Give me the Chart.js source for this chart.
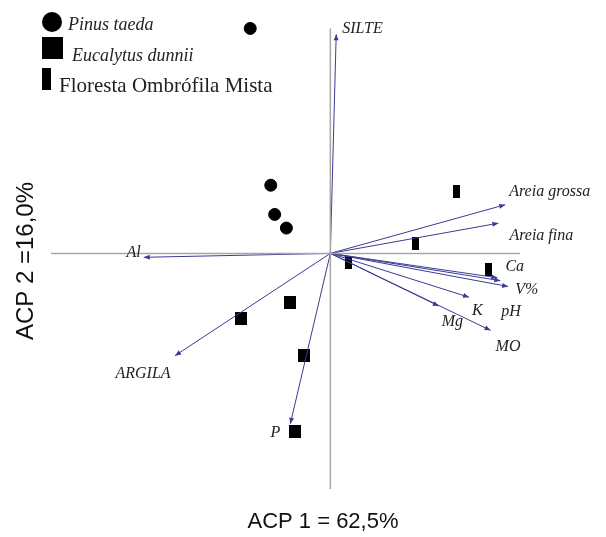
<!DOCTYPE html>
<html>
<head>
<meta charset="utf-8">
<script src="https://cdn.jsdelivr.net/npm/chart.js@4.4.1/dist/chart.umd.min.js"></script>
<style>
  body { margin: 0; background: #fff; }
  #pca { display: block; }
</style>
</head>
<body>
<canvas id="pca" width="606" height="537"></canvas>
<script>
// --- DADOS DA ACP (escores e vetores) ---
const variaveis = ["SILTE", "Areia grossa", "Areia fina", "Ca", "pH", "V%", "K", "Mg", "MO", "Al", "ARGILA", "P"];
const vetorX = [0.06, 1.79, 1.72, 1.71, 1.74, 1.82, 1.42, 1.11, 1.64, -1.91, -1.59, -0.41];
const vetorY = [2.25, 0.50, 0.31, -0.25, -0.28, -0.34, -0.45, -0.54, -0.79, -0.04, -1.05, -1.75];

const pinusX = [-0.82, -0.61, -0.57, -0.45];
const pinusY = [2.31, 0.70, 0.40, 0.26];
const eucaliptoX = [-0.91, -0.41, -0.27, -0.36];
const eucaliptoY = [-0.67, -0.50, -1.05, -1.83];
const florestaX = [1.29, 0.87, 1.62, 0.19];
const florestaY = [0.64, 0.10, -0.17, -0.09];

const tituloX = "ACP 1 = 62,5%";
const tituloY = "ACP 2 =16,0%";
const legendas = ["Pinus taeda", "Eucalytus dunnii", "Floresta Ombrófila Mista"];

// limites dos eixos desenhados (cruz central)
const eixoH = [-2.86, 1.94];
const eixoV = [2.31, -2.42];

// deslocamento (px) dos rótulos em relação à ponta do vetor: [dx, dy, alinhamento]
const rotuloDesvio = {
  "SILTE": [6, -5, "left"],
  "Areia grossa": [4, -13, "left"],
  "Areia fina": [11, 13, "left"],
  "Ca": [8, -11, "left"],
  "pH": [1, 31, "left"],
  "V%": [7, 3, "left"],
  "K": [3, 14, "left"],
  "Mg": [3, 16, "left"],
  "MO": [5, 16, "left"],
  "Al": [-3, -5, "right"],
  "ARGILA": [-32, 18, "center"],
  "P": [-10, 9, "right"]
};

const corVetor = "#3b3b94";
const corEixo = "#a6a6a6";

// marcadores retangulares (quadrado e barra estreita)
function marcador(w, h) {
  const c = document.createElement("canvas");
  c.width = w; c.height = h;
  const g = c.getContext("2d");
  g.fillStyle = "#000";
  g.fillRect(0, 0, w, h);
  return c;
}
const quadrado = marcador(12, 13);
const barra = marcador(7, 13);

const pares = (xs, ys) => xs.map((x, i) => ({ x: x, y: ys[i] }));

const datasets = [];
// eixos cinza
datasets.push({ data: [{ x: eixoH[0], y: 0 }, { x: eixoH[1], y: 0 }], showLine: true, borderColor: corEixo, borderWidth: 1.5, pointRadius: 0, tipo: "eixo" });
datasets.push({ data: [{ x: 0, y: eixoV[0] }, { x: 0, y: eixoV[1] }], showLine: true, borderColor: corEixo, borderWidth: 1.5, pointRadius: 0, tipo: "eixo" });
// vetores das variáveis
variaveis.forEach((v, i) => {
  datasets.push({
    label: v,
    data: [{ x: 0, y: 0 }, { x: vetorX[i], y: vetorY[i] }],
    showLine: true,
    borderColor: corVetor,
    borderWidth: 1,
    pointRadius: 0,
    tipo: "vetor"
  });
});
// escores
datasets.push({ label: legendas[0], data: pares(pinusX, pinusY), pointStyle: "circle", pointRadius: 6, backgroundColor: "#000", borderColor: "#000" });
datasets.push({ label: legendas[1], data: pares(eucaliptoX, eucaliptoY), pointStyle: quadrado, backgroundColor: "#000" });
datasets.push({ label: legendas[2], data: pares(florestaX, florestaY), pointStyle: barra, backgroundColor: "#000" });

// --- PLUGIN: setas, rótulos, legenda e títulos dos eixos ---
const extras = {
  id: "extras",
  afterDatasetsDraw(chart) {
    const ctx = chart.ctx;
    ctx.save();

    chart.data.datasets.forEach((ds, i) => {
      if (ds.tipo !== "vetor") return;
      const pts = chart.getDatasetMeta(i).data;
      const a = pts[0], b = pts[1];
      const ang = Math.atan2(b.y - a.y, b.x - a.x);
      // ponta da seta
      ctx.fillStyle = corVetor;
      ctx.beginPath();
      ctx.moveTo(b.x, b.y);
      ctx.lineTo(b.x - 6 * Math.cos(ang) + 2.5 * Math.sin(ang), b.y - 6 * Math.sin(ang) - 2.5 * Math.cos(ang));
      ctx.lineTo(b.x - 6 * Math.cos(ang) - 2.5 * Math.sin(ang), b.y - 6 * Math.sin(ang) + 2.5 * Math.cos(ang));
      ctx.closePath();
      ctx.fill();
      // rótulo
      const d = rotuloDesvio[ds.label];
      ctx.fillStyle = "#222";
      ctx.font = "italic 16px 'Liberation Serif', serif";
      ctx.textAlign = d[2];
      ctx.textBaseline = "middle";
      ctx.fillText(ds.label, b.x + d[0], b.y + d[1]);
    });

    // legenda
    ctx.fillStyle = "#000";
    ctx.beginPath();
    ctx.arc(52, 22, 10, 0, Math.PI * 2);
    ctx.fill();
    ctx.fillRect(42, 37, 21, 22);
    ctx.fillRect(42, 68, 9, 22);
    ctx.textAlign = "left";
    ctx.textBaseline = "alphabetic";
    ctx.fillStyle = "#222";
    ctx.font = "italic 18px 'Liberation Serif', serif";
    ctx.fillText(legendas[0], 68, 30);
    ctx.fillText(legendas[1], 72, 61);
    ctx.font = "21px 'Liberation Serif', serif";
    ctx.fillText(legendas[2], 59, 92);

    // títulos dos eixos
    ctx.fillStyle = "#111";
    ctx.font = "22px 'Liberation Sans', Arial, sans-serif";
    ctx.textAlign = "center";
    ctx.fillText(tituloX, 323, 528);
    ctx.font = "24px 'Liberation Sans', Arial, sans-serif";
    ctx.translate(33, 261);
    ctx.rotate(-Math.PI / 2);
    ctx.fillText(tituloY, 0, 0);

    ctx.restore();
  }
};

new Chart(document.getElementById("pca"), {
  type: "scatter",
  data: { datasets: datasets },
  options: {
    responsive: false,
    animation: false,
    layout: { padding: 0 },
    scales: {
      x: { display: false, min: -3.31, max: 2.75 },
      y: { display: false, min: -2.84, max: 2.53 }
    },
    plugins: { legend: { display: false }, tooltip: { enabled: false } }
  },
  plugins: [extras]
});
</script>
</body>
</html>
